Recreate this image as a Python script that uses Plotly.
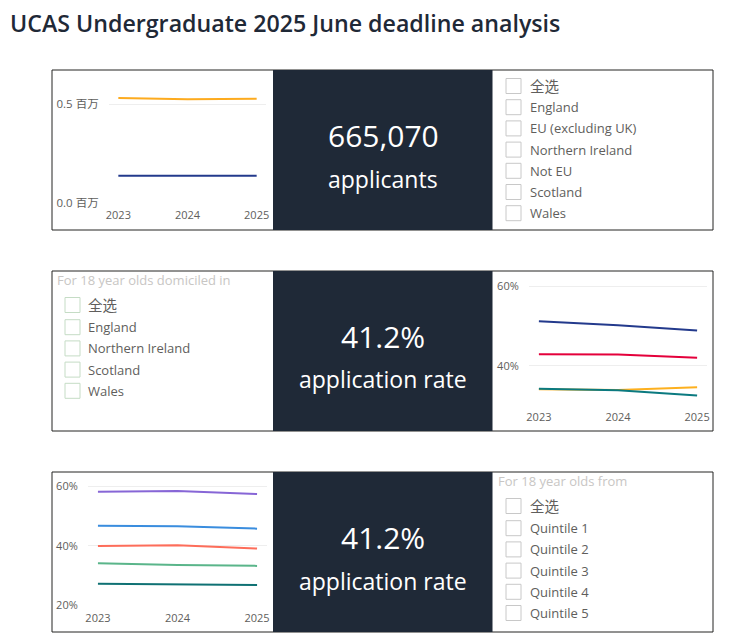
import plotly.graph_objects as go

W = 739
H = 641

years = ["2023", "2024", "2025"]

# applicants chart (millions)
applicants_eng = [0.532, 0.525, 0.528]
applicants_other = [0.138, 0.137, 0.138]

# application rate by nation (%)
rate_ni = [51.2, 50.2, 48.9]
rate_eng = [42.9, 42.8, 42.0]
rate_sco = [34.1, 33.9, 34.6]
rate_wal = [34.2, 33.8, 32.5]

# application rate by quintile (%)
q5 = [58.2, 58.4, 57.4]
q4 = [46.8, 46.6, 45.8]
q3 = [40.0, 40.2, 39.1]
q2 = [34.2, 33.6, 33.3]
q1 = [27.3, 27.1, 26.9]

kpi_values = ["665,070", "41.2%", "41.2%"]
kpi_labels = ["applicants", "application rate", "application rate"]

slicer_applicants = ["全选", "England", "EU (excluding UK)", "Northern Ireland", "Not EU", "Scotland", "Wales"]
slicer_nations = ["全选", "England", "Northern Ireland", "Scotland", "Wales"]
slicer_quintiles = ["全选", "Quintile 1", "Quintile 2", "Quintile 3", "Quintile 4", "Quintile 5"]

DARK = "#1f2937"
GREY = "#605e5c"
FONT = "Open Sans, Noto Sans CJK SC, sans-serif"


def px(x):
    return x / W


def py(y):
    return 1 - y / H


fig = go.Figure()


def add_line(values, color, axis):
    fig.add_trace(go.Scatter(x=years, y=values, mode="lines", xaxis="x" + axis, yaxis="y" + axis,
                             line=dict(color=color, width=2), showlegend=False, hoverinfo="skip"))


add_line(applicants_other, "#233a8c", "")
add_line(applicants_eng, "#fdab1f", "")
add_line(rate_ni, "#233a8c", "2")
add_line(rate_eng, "#e4003b", "2")
add_line(rate_sco, "#fdb01f", "2")
add_line(rate_wal, "#0b7a80", "2")
add_line(q5, "#8766d6", "3")
add_line(q4, "#3a8dde", "3")
add_line(q3, "#fd6d5a", "3")
add_line(q2, "#5ab58a", "3")
add_line(q1, "#0f7173", "3")


def axes(x0, x1, y0, y1, xrange, yrange, tickvals, ticktext, ytickfont, standoff):
    xa = dict(domain=[px(x0), px(x1)], type="category", range=xrange, showgrid=False, showline=False,
              zeroline=False, ticks="outside", ticklen=standoff, tickcolor="rgba(0,0,0,0)", automargin=False,
              tickfont=dict(family=FONT, size=11, color=GREY))
    ya = dict(domain=[py(y1), py(y0)], range=yrange, tickvals=tickvals, ticktext=ticktext,
              showgrid=True, gridcolor="#eeeeee", gridwidth=1, zeroline=False, showline=False, automargin=False,
              ticks="outside", ticklen=7, tickcolor="rgba(0,0,0,0)",
              tickfont=dict(family=FONT, size=ytickfont, color=GREY))
    return xa, ya


xa1, ya1 = axes(109, 266, 75, 203, [-0.135, 2.135], [0, 0.648], [0, 0.5], ["0.0 百万", "0.5 百万"], 11.5, 2)
xa2, ya2 = axes(529, 707, 278, 405, [-0.125, 2.125], [30.1, 62.1], [40, 60], ["40%", "60%"], 11, 2)
ya2["anchor"] = "x2"
xa2["anchor"] = "y2"
xa3, ya3 = axes(88, 267, 478, 605.5, [-0.125, 2.125], [20, 62.8], [20, 40, 60], ["20%", "40%", "60%"], 11, 2)
ya3["anchor"] = "x3"
xa3["anchor"] = "y3"

shapes = []
annotations = []


def text(x, y, s, size, color=GREY, anchor="left", family=FONT, weight=None):
    font = dict(family=family, size=size, color=color)
    if weight:
        font["weight"] = weight
    annotations.append(dict(x=px(x), y=py(y), xref="paper", yref="paper", text=s, showarrow=False,
                            xanchor=anchor, yanchor="middle", font=font))


def rect(x0, y0, x1, y1, fill=None, line=None):
    shapes.append(dict(type="rect", xref="paper", yref="paper", x0=px(x0), x1=px(x1), y0=py(y0), y1=py(y1),
                       fillcolor=fill or "rgba(0,0,0,0)", line=dict(color=line or "rgba(0,0,0,0)", width=1),
                       layer="below"))


def slicer(items, box_x, text_x, first_y, step, box_color, title=None, title_x=0, title_y=0, gap=0):
    if title:
        text(title_x, title_y, title, 13, color="#c8c6c4")
    for i, item in enumerate(items):
        y = first_y + i * step + (gap if i else 0)
        rect(box_x, y - 7.5, box_x + 15, y + 7.5, fill="white", line=box_color)
        text(text_x, y, item, 14.5 if i == 0 else 13, color=GREY)


for top, value, label in zip([70, 271, 472], kpi_values, kpi_labels):
    rect(52, top, 713, top + 160, fill="white", line="#252423")
    rect(273, top, 492.5, top + 160, fill=DARK)
    text(383, top + 65.5, value, 30, color="white", anchor="center")
    text(383, top + 108.5, label, 23, color="white", anchor="center")

slicer(slicer_applicants, 506, 527.5, 86, 21.2, "#c8c8c8")
slicer(slicer_nations, 65, 86, 305, 21.2, "#c5dcc5", "For 18 year olds domiciled in", 55, 280, gap=1)
slicer(slicer_quintiles, 506, 527.5, 506, 21.2, "#c8c8c8", "For 18 year olds from", 496, 481, gap=1)

text(8, 23, "UCAS Undergraduate 2025 June deadline analysis", 23.2, color="#1f2937", weight=600)

fig.update_layout(width=W, height=H, margin=dict(l=0, r=0, t=0, b=0, autoexpand=False), paper_bgcolor="white",
                  plot_bgcolor="rgba(0,0,0,0)",
                  xaxis=xa1, yaxis=ya1, xaxis2=xa2, yaxis2=ya2, xaxis3=xa3, yaxis3=ya3,
                  shapes=shapes, annotations=annotations, showlegend=False)

fig.write_html("out.html", config={"displayModeBar": False},
               post_script="document.body.style.margin='0';")
